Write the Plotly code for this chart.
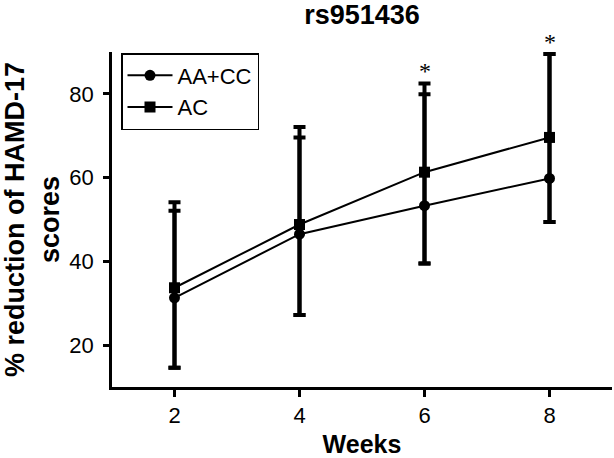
import plotly.graph_objects as go

# ---- data ----
weeks = [2, 4, 6, 8]
aacc_mean = [31.3, 46.5, 53.3, 59.8]
aacc_err_plus = [20.8, 23.1, 26.6, 29.7]
aacc_err_minus = [16.7, 19.3, 13.8, 10.4]
ac_mean = [33.7, 48.8, 61.3, 69.6]
ac_err_plus = [20.4, 23.3, 21.2, 19.9]
ac_err_minus = [19.1, 21.6, 21.8, 20.2]
sig_weeks = [6, 8]
x_ticks = [2, 4, 6, 8]
y_ticks = [20, 40, 60, 80]

FONT = "Arial, Liberation Sans, sans-serif"

fig = go.Figure()

fig.add_trace(go.Scatter(
    x=weeks, y=aacc_mean, name="AA+CC", mode="lines+markers",
    line=dict(color="black", width=2),
    marker=dict(symbol="circle", size=11, color="black"),
    error_y=dict(type="data", symmetric=False, array=aacc_err_plus,
                 arrayminus=aacc_err_minus, color="black", thickness=4, width=6),
))
fig.add_trace(go.Scatter(
    x=weeks, y=ac_mean, name="AC", mode="lines+markers",
    line=dict(color="black", width=2),
    marker=dict(symbol="square", size=11, color="black"),
    error_y=dict(type="data", symmetric=False, array=ac_err_plus,
                 arrayminus=ac_err_minus, color="black", thickness=4, width=6),
))

# significance asterisks above the highest error bar of each marked week
for w in sig_weeks:
    i = weeks.index(w)
    top = max(aacc_mean[i] + aacc_err_plus[i], ac_mean[i] + ac_err_plus[i])
    fig.add_annotation(x=w, y=top, text="*", showarrow=False, yanchor="bottom",
                       yshift=-3, font=dict(family="Liberation Serif, serif", size=24, color="black"))

fig.update_layout(
    width=614, height=458,
    margin=dict(l=112, r=2, t=52, b=71),
    paper_bgcolor="white", plot_bgcolor="white",
    font=dict(family=FONT, color="black"),
    title=dict(text="<b>rs951436</b>", x=(112 + 612) / 2 / 614, xanchor="center",
               y=1 - 15 / 458, yanchor="middle", font=dict(size=27, family=FONT)),
    legend=dict(x=0.018, y=0.997, xanchor="left", yanchor="top",
                bordercolor="black", borderwidth=1.5, bgcolor="white",
                font=dict(size=22, family=FONT), tracegroupgap=0, itemwidth=45),
    showlegend=True,
)

fig.update_xaxes(
    range=[1, 9], tickvals=x_ticks, ticktext=[str(v) for v in x_ticks],
    showline=True, linecolor="black", linewidth=2.5, mirror=False,
    ticks="outside", ticklen=7, tickwidth=2.5, tickcolor="black",
    showgrid=False, zeroline=False, tickfont=dict(size=22, family=FONT),
    automargin=False,
    title=dict(text="<b>Weeks</b>", font=dict(size=25, family=FONT), standoff=16),
)
fig.update_yaxes(
    range=[10, 90], tickvals=y_ticks, ticktext=[str(v) for v in y_ticks],
    showline=True, linecolor="black", linewidth=2.5, mirror=False,
    ticks="outside", ticklen=6, tickwidth=2.5, tickcolor="black",
    showgrid=False, zeroline=False, tickfont=dict(size=22, family=FONT),
    ticklabelstandoff=5, automargin=False,
    title=dict(text="<b>% reduction of HAMD-17</b><br><b>scores</b>",
               font=dict(size=27, family=FONT), standoff=10),
)

fig.write_html("out.html", config={"displayModeBar": False},
               post_script="document.body.style.margin='0px';document.body.style.padding='0px';")
